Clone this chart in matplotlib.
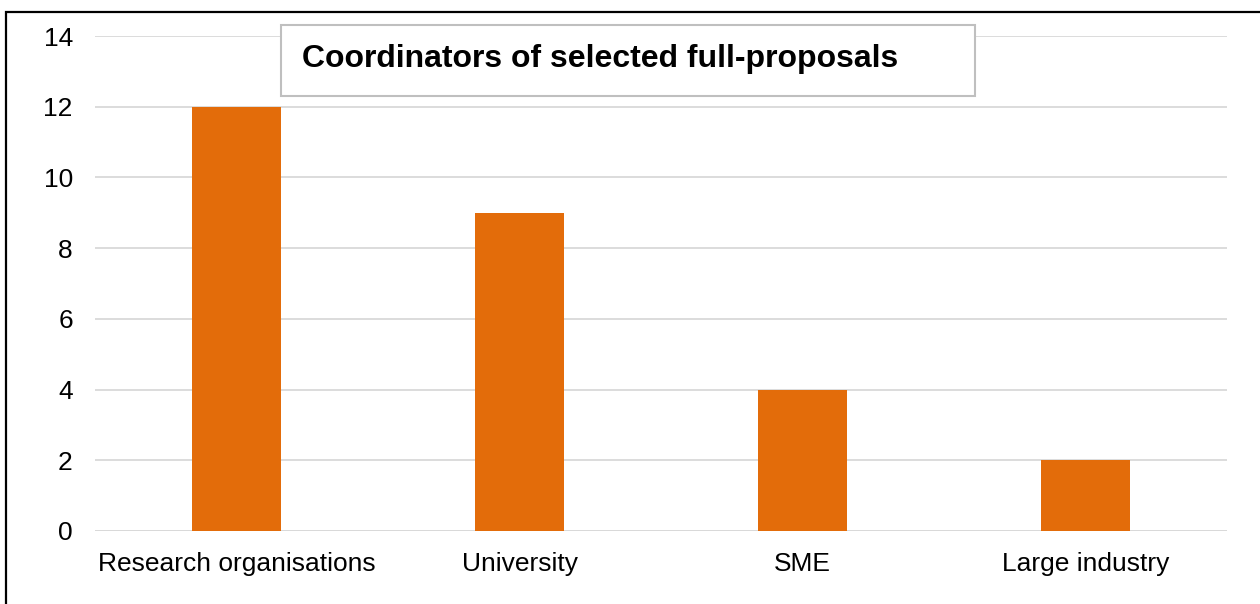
import matplotlib.pyplot as plt
from matplotlib.patches import Rectangle

plt.rcParams['font.family'] = ['Liberation Sans', 'DejaVu Sans']

categories = ['Research organisations', 'University', 'SME', 'Large industry']
counts = [12, 9, 4, 2]
yticks = [0, 2, 4, 6, 8, 10, 12, 14]
title = 'Coordinators of selected full-proposals'

W, H = 1260, 604
fig = plt.figure(figsize=(W / 100, H / 100), dpi=100)
ax = fig.add_axes([95 / W, 1 - 531 / H, (1227 - 95) / W, (531 - 36) / H])

x = range(len(categories))
ax.bar(x, counts, width=0.315, color='#E36C0A', zorder=3)
ax.set_xlim(-0.5, len(categories) - 0.5)
ax.set_ylim(0, 14)
ax.set_yticks(yticks)
ax.set_xticks(list(x))
ax.set_xticklabels(categories)
ax.tick_params(length=0, labelsize=19, colors='black')
ax.tick_params(axis='x', pad=15)
ax.tick_params(axis='y', pad=16)
ax.yaxis.grid(True, color='#d9d9d9', linewidth=1.3, zorder=0)
ax.axhline(0, color='#d9d9d9', linewidth=1.3, zorder=1)
for s in ax.spines.values():
    s.set_visible(False)

# outer chart border (right and bottom fall outside the picture)
fig.patches.append(Rectangle((6 / W, -0.1), 1.1, 1 - 12 / H + 0.1,
                             transform=fig.transFigure, fill=False,
                             edgecolor='black', linewidth=1.6))

# title box
fig.patches.append(Rectangle((281 / W, 1 - 96 / H), (975 - 281) / W, (96 - 25) / H,
                             transform=fig.transFigure, facecolor='white',
                             edgecolor='#bfbfbf', linewidth=1.5, zorder=5))
fig.text(302 / W, 1 - 59 / H, title, fontsize=23, fontweight='bold',
         ha='left', va='center', zorder=6)

fig.savefig('out.png', dpi=100)
